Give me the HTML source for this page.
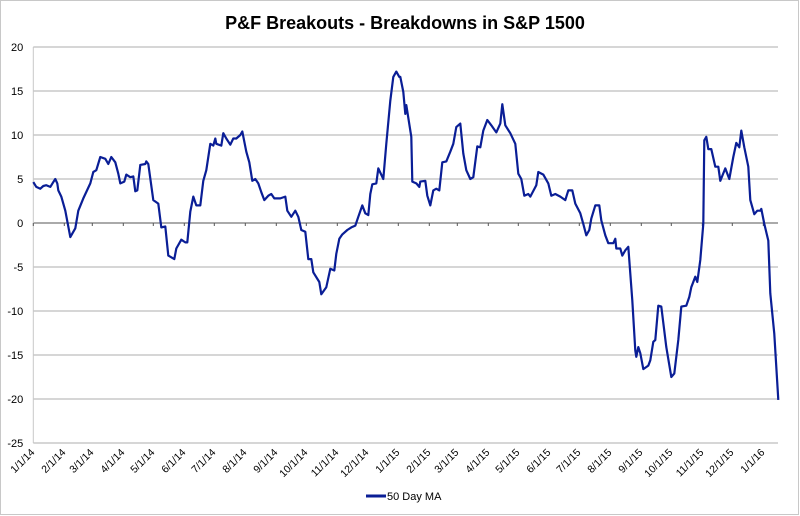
<!DOCTYPE html>
<html><head><meta charset="utf-8"><style>
html,body{margin:0;padding:0;background:#fff;}
#chart{position:relative;width:800px;height:516px;overflow:hidden;}
svg{font-family:"Liberation Sans",Arial,sans-serif;}
</style></head><body>
<div id="chart">
<svg id="svg" width="800" height="516" viewBox="0 0 800 516">
<rect x="0.5" y="0.5" width="798" height="514" fill="#fff" stroke="#c8c8c8"/>
<text x="405" y="29" text-anchor="middle" font-size="18" font-weight="bold" fill="#000">P&amp;F Breakouts - Breakdowns in S&amp;P 1500</text>
<g id="grid"></g><g id="axes"></g><g id="series"></g>
<g>
<line x1="366" y1="496" x2="386" y2="496" stroke="#0a1e96" stroke-width="3"/>
<text x="387" y="500" font-size="11" fill="#000">50 Day MA</text>
</g>
</svg></div>
<script>
const yTicks=[20,15,10,5,0,-5,-10,-15,-20,-25];
const xLabels=["1/1/14","2/1/14","3/1/14","4/1/14","5/1/14","6/1/14","7/1/14","8/1/14","9/1/14","10/1/14","11/1/14","12/1/14","1/1/15","2/1/15","3/1/15","4/1/15","5/1/15","6/1/15","7/1/15","8/1/15","9/1/15","10/1/15","11/1/15","12/1/15","1/1/16"];
const xLabelDays=[0,31,59,90,120,151,181,212,243,273,304,334,365,396,424,455,485,516,546,577,608,638,669,699,730];
const days=[0,3,7,10,13,17,20,22,24,25,28,32,37,42,45,50,57,60,63,67,72,75,78,82,85,87,91,93,97,100,102,104,107,112,113,115,120,125,128,132,135,138,141,143,148,152,154,157,160,163,167,170,173,177,180,182,183,188,190,193,197,200,203,207,209,213,216,219,222,225,228,231,235,238,241,247,252,254,258,262,265,268,272,275,278,280,286,288,293,297,301,303,306,309,314,318,322,325,329,332,335,337,339,343,345,350,353,357,360,363,366,367,370,372,373,378,379,383,386,387,392,394,397,400,403,406,409,413,417,420,423,427,430,433,437,440,444,447,450,454,458,463,467,469,472,477,482,485,488,491,495,497,503,505,510,515,518,522,527,532,535,539,542,547,550,553,556,558,562,566,568,572,575,580,582,583,587,589,592,595,599,602,603,605,607,610,615,617,620,622,625,628,633,638,641,645,648,653,656,658,662,664,667,670,671,673,675,678,682,685,687,692,696,700,703,706,708,711,715,717,721,724,727,728,731,735,737,741,745];
const values=[4.65,4.1,3.9,4.2,4.3,4.1,4.65,5.0,4.5,3.7,3.0,1.4,-1.6,-0.6,1.4,2.8,4.5,5.8,6.0,7.5,7.3,6.7,7.5,6.9,5.6,4.5,4.7,5.5,5.2,5.3,3.6,3.7,6.6,6.7,7.0,6.7,2.6,2.2,-0.5,-0.4,-3.7,-3.9,-4.1,-2.9,-1.9,-2.2,-2.2,1.3,3.0,2.0,2.0,4.8,6.0,9.0,8.8,9.6,9.0,8.8,10.2,9.6,8.9,9.6,9.6,10.0,10.4,8.1,6.9,4.8,5.0,4.5,3.5,2.6,3.1,3.3,2.8,2.8,3.0,1.4,0.7,1.4,0.7,-0.8,-1.0,-4.1,-4.1,-5.6,-6.7,-8.1,-7.3,-5.2,-5.4,-3.5,-1.8,-1.3,-0.8,-0.5,-0.3,0.7,2.0,1.1,0.9,3.3,4.4,4.5,6.2,5.0,9.0,13.9,16.6,17.2,16.6,16.6,14.9,12.4,13.4,9.8,4.7,4.5,4.1,4.7,4.8,3.1,2.0,3.7,3.9,3.7,6.9,7.0,8.1,9.0,10.9,11.3,7.9,6.0,5.0,5.2,8.7,8.6,10.5,11.7,11.1,10.3,11.3,13.5,11.1,10.2,9.0,5.6,5.0,3.1,3.3,3.0,4.3,5.8,5.5,4.5,3.1,3.3,3.0,2.6,3.7,3.7,2.2,1.1,-0.1,-1.4,-0.8,0.5,2.0,2.0,0.3,-1.4,-2.3,-2.3,-1.8,-2.9,-2.9,-3.7,-3.1,-2.7,-8.8,-14.5,-15.2,-14.1,-14.8,-16.6,-16.2,-15.6,-13.5,-13.3,-9.4,-9.5,-14.1,-17.5,-17.1,-13.3,-9.5,-9.4,-8.4,-7.3,-6.1,-6.7,-4.2,-0.1,9.4,9.8,8.4,8.4,6.4,6.4,4.8,6.2,5.0,7.5,9.1,8.6,10.5,8.6,6.4,2.6,1.0,1.4,1.4,1.6,-0.1,-2.0,-8.0,-12.6,-20.1];
const L=33.3,R=778,T=47,B=443;
const xS=d=>L+d*1.0;
const yS=v=>T+(20-v)*(B-T)/45;
const NS="http://www.w3.org/2000/svg";
function mk(tag,attrs,parent){const e=document.createElementNS(NS,tag);for(const k in attrs)e.setAttribute(k,attrs[k]);parent.appendChild(e);return e;}
const grid=document.getElementById('grid'),axes=document.getElementById('axes'),ser=document.getElementById('series');
yTicks.forEach(v=>{
  const y=yS(v);
  if(v!==0){const g=mk('line',{x1:L,x2:R,y1:y,y2:y,stroke:'#c8c8c8','stroke-width':1.5},grid);
  
  }
  const t=mk('text',{x:L-10,y:y+4,'text-anchor':'end','font-size':11,fill:'#000'},axes);
  t.textContent=v;
  
  
});
const ax=mk('line',{x1:L,x2:R,y1:yS(0),y2:yS(0),stroke:'#555','stroke-width':1},axes);


const yax=mk('line',{x1:L,x2:L,y1:T,y2:B,stroke:'#c8c8c8','stroke-width':1},axes);


xLabels.forEach((s,i)=>{
  const x=xS(xLabelDays[i]);
  const tk=mk('line',{x1:x,x2:x,y1:yS(0),y2:yS(0)+3,stroke:'#555'},axes);
  
  
  const t=mk('text',{x:x+2,y:B+10,'text-anchor':'end','font-size':10.5,fill:'#000',transform:`rotate(-45 ${x+2} ${B+10})`},axes);
  t.textContent=s;
  
  
});
const pts=days.map((d,i)=>xS(d).toFixed(1)+','+yS(values[i]).toFixed(1)).join(' ');
const pl=mk('polyline',{points:pts,fill:'none',stroke:'#0a1e96','stroke-width':2.2,'stroke-linejoin':'round'},ser);


</script>
</body></html>
